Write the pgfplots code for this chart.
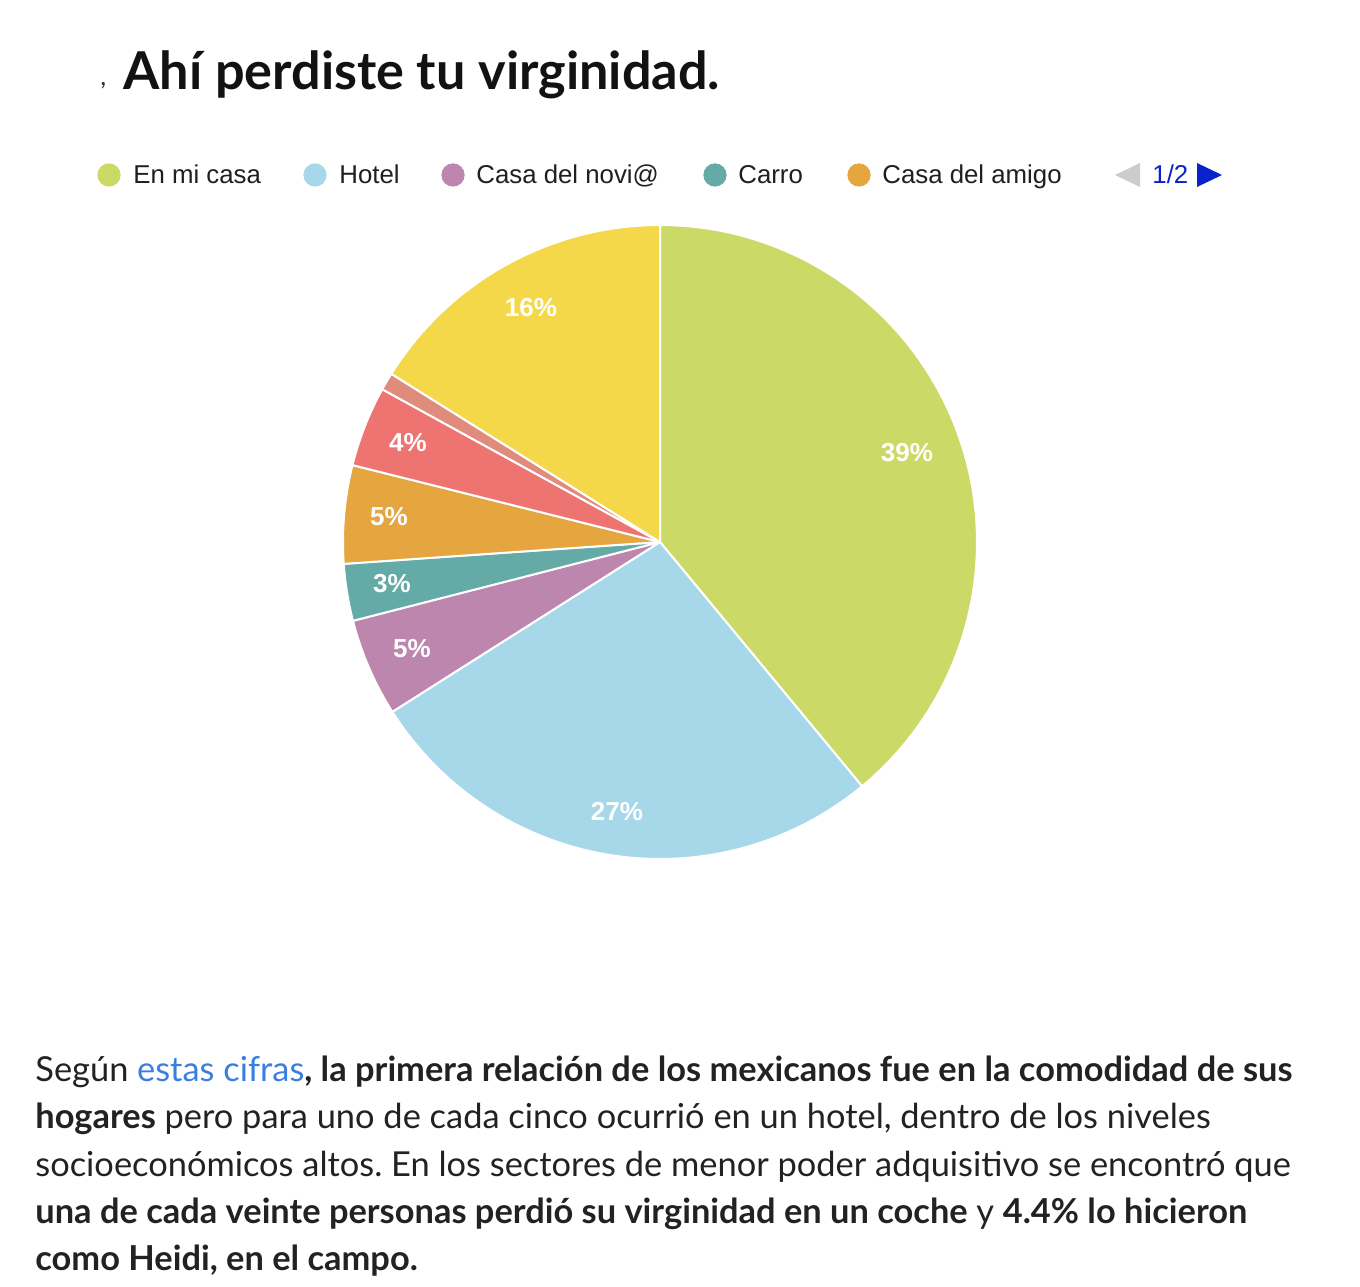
\documentclass[border=0pt]{standalone}
\usepackage{pgfplots}
\pgfplotsset{compat=1.18}
\usepackage{fontspec}
\setmainfont{Lato}
\newfontfamily\arial{Liberation Sans}
\frenchspacing
\definecolor{cgreen}{HTML}{CBD967}
\definecolor{cblue}{HTML}{A6D8EA}
\definecolor{cpurple}{HTML}{BD86AE}
\definecolor{cteal}{HTML}{64AAA7}
\definecolor{corange}{HTML}{E5A63F}
\definecolor{cred}{HTML}{EE7472}
\definecolor{csalmon}{HTML}{E08C7C}
\definecolor{cyellow}{HTML}{F4D84A}
\definecolor{ctext}{HTML}{222222}
\definecolor{clink}{HTML}{3A7FE0}
\definecolor{cnav}{HTML}{0A22CC}
\definecolor{cnavgray}{HTML}{CCCCCC}
% slice values (percent), clockwise from 12 o'clock
\def\cum{0}
\newcommand{\pieslice}[2]{%
  \pgfmathsetmacro{\angB}{90-3.6*\cum}%
  \pgfmathsetmacro{\newcum}{\cum+#2}%
  \pgfmathsetmacro{\angA}{90-3.6*\newcum}%
  \global\let\cum\newcum
  \edef\doslice{\noexpand\addplot[fill=#1, draw=white, line width=1pt, line join=round, domain=\angA:\angB, samples=120, variable=\noexpand\t] ({660+317*cos(\noexpand\t)},{-542+317*sin(\noexpand\t)}) -- (axis cs:660,-542) -- cycle;}%
  \doslice}
\begin{document}
\begin{tikzpicture}
\begin{axis}[x=0.5pt,y=0.5pt,xmin=0,xmax=1360,ymin=-1286,ymax=0,hide axis,clip=false,enlargelimits=false]
\path (axis cs:0,0) rectangle (axis cs:1360,-1286);
% pie
\pieslice{cgreen}{39}
\pieslice{cblue}{27}
\pieslice{cpurple}{5}
\pieslice{cteal}{2.9}
\pieslice{corange}{5}
\pieslice{cred}{4.1}
\pieslice{csalmon}{0.9}
\pieslice{cyellow}{16.1}
% slice labels
\begin{scope}[every node/.style={font=\arial\bfseries\fontsize{13}{15}\selectfont, text=white, anchor=center}]
\node at (axis cs:907,-453) {39\%};
\node at (axis cs:617,-812) {27\%};
\node at (axis cs:412,-649) {5\%};
\node at (axis cs:392,-584) {3\%};
\node at (axis cs:389,-517) {5\%};
\node at (axis cs:408,-443) {4\%};
\node at (axis cs:531,-308) {16\%};
\end{scope}
% legend markers
\addplot[only marks, mark=*, mark size=5.6pt, mark options={draw=cgreen, fill=cgreen}] coordinates {(109,-175)};
\addplot[only marks, mark=*, mark size=5.6pt, mark options={draw=cblue, fill=cblue}] coordinates {(315,-175)};
\addplot[only marks, mark=*, mark size=5.6pt, mark options={draw=cpurple, fill=cpurple}] coordinates {(453,-175)};
\addplot[only marks, mark=*, mark size=5.6pt, mark options={draw=cteal, fill=cteal}] coordinates {(715,-175)};
\addplot[only marks, mark=*, mark size=5.6pt, mark options={draw=corange, fill=corange}] coordinates {(859,-175)};
\begin{scope}[every node/.style={font=\arial\fontsize{12.9}{15}\selectfont, text=black!88, anchor=base west, inner sep=0pt}]
\node at (axis cs:133,-184) {En mi casa};
\node at (axis cs:339,-184) {Hotel};
\node at (axis cs:476,-184) {Casa del novi@};
\node at (axis cs:738,-184) {Carro};
\node at (axis cs:882,-184) {Casa del amigo};
\node[text=cnav] at (axis cs:1152,-184) {1/2};
\end{scope}
\fill[cnavgray] (axis cs:1115,-175) -- (axis cs:1140,-163) -- (axis cs:1140,-187) -- cycle;
\fill[cnav] (axis cs:1222,-175) -- (axis cs:1197,-163) -- (axis cs:1197,-187) -- cycle;
% title
\node[anchor=base west, inner sep=0pt, font=\bfseries\fontsize{26.1}{30}\selectfont, text=black!93] at (axis cs:123,-90) {Ahí perdiste tu virginidad.};
\node[anchor=base west, inner sep=0pt, font=\fontsize{13}{14}\selectfont, text=black!80] at (axis cs:100,-86) {,};
% paragraph
\begin{scope}[every node/.style={font=\fontsize{17.2}{20}\selectfont, text=ctext, anchor=base west, inner sep=0pt}]
\node at (axis cs:35,-1081) {Según \textcolor{clink}{estas cifras}\textbf{, la primera relación de los mexicanos fue en la comodidad de sus}};
\node at (axis cs:35,-1128) {\textbf{hogares} pero para uno de cada cinco ocurrió en un hotel, dentro de los niveles};
\node at (axis cs:35,-1176) {socioeconómicos altos. En los sectores de menor poder adquisitivo se encontró que};
\node at (axis cs:35,-1223) {\textbf{una de cada veinte personas perdió su virginidad en un coche} y \textbf{4.4\% lo hicieron}};
\node at (axis cs:35,-1270) {\textbf{como Heidi, en el campo.}};
\end{scope}
\end{axis}
\end{tikzpicture}
\end{document}
